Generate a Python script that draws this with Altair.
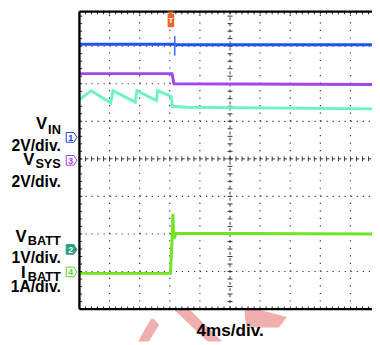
import altair as alt
import pandas as pd
import numpy as np

FONT = "Liberation Sans"
T_END = 38.86   # visible time span in ms (4 ms/div)
Y_TOP = 3.92    # visible top, divisions from screen centre
Y_BOT = -4.0

# ---------------- waveform data: time (ms), level (div from centre) ----------------
vin_t = [0.0, 12.60, 12.75, T_END]
vin_v = [3.05, 3.05, 3.04, 3.04]
vin_spike_t = [12.66]
vin_spike_hi = [3.27]
vin_spike_lo = [2.75]

vsys_t = [0.0, 12.30, 12.55, T_END]
vsys_v = [2.27, 2.27, 2.00, 1.98]

saw_t = [0.0, 1.56, 4.16, 4.46, 7.41, 7.63, 10.23, 10.40, 12.18, 12.35, 14.16, T_END]
saw_v = [1.58, 1.815, 1.49, 1.815, 1.51, 1.815, 1.555, 1.815, 1.66, 1.40, 1.372, 1.33]

batt_t = [0.0, 12.08, 12.30, 12.42, 12.50, 12.62, 12.80, T_END]
batt_v = [-3.05, -3.05, -2.20, -1.47, -2.00, -2.12, -1.98, -2.00]

TRIG = 12.15  # trigger position (ms)

# grid divisions
x_major = [4, 8, 12, 16, 24, 28, 32, 36]
y_major = [-3, -2, -1, 1, 2, 3]
X_CENTER = 20
x_minor = list(np.round(np.arange(0, T_END, 0.8), 3))
y_minor = list(np.round(np.arange(Y_BOT, Y_TOP, 0.2), 3))

# watermark fragments (horizontal-orient polygons)
wm_band = ["A", "A", "C", "C", "C", "B", "B", "B"]
wm_d = [-4.0, -4.86, -4.26, -4.416, -4.86, -4.0, -4.21, -4.49]
wm_x0 = [12.48, 17.02, 9.55, 9.03, 7.80, 21.96, 21.96, 22.22]
wm_x1 = [14.55, 18.97, 9.88, 10.59, 9.23, 23.52, 27.55, 26.51]

xs = alt.Scale(domain=[0, T_END], nice=False, zero=False)
ys = alt.Scale(domain=[Y_BOT, Y_TOP], nice=False, zero=False)


def X(f):
    return alt.X(f"{f}:Q", scale=xs, axis=None)


def Y(f):
    return alt.Y(f"{f}:Q", scale=ys, axis=None)


one = pd.DataFrame({"a": [0]})
layers = []

# watermark
wm = pd.DataFrame({"band": wm_band, "d": wm_d, "x0": wm_x0, "x1": wm_x1})
layers.append(
    alt.Chart(wm).mark_area(orient="horizontal", color="#F0AEAE", opacity=1)
    .encode(y=Y("d"), x=X("x0"), x2="x1:Q", detail="band:N")
)


def rules(df, **kw):
    return alt.Chart(df).mark_rule(**kw).encode(
        x=X("x"), x2="x2:Q", y=Y("y"), y2="y2:Q")


# dotted grid
vg = pd.DataFrame({"x": x_major, "x2": x_major, "y": [Y_BOT] * len(x_major), "y2": [Y_TOP] * len(x_major)})
layers.append(rules(vg, color="#333333", strokeWidth=1.2, strokeDash=[1.2, 6.48]))
hg = pd.DataFrame({"x": [0] * len(y_major), "x2": [T_END] * len(y_major), "y": y_major, "y2": y_major})
layers.append(rules(hg, color="#333333", strokeWidth=1.2, strokeDash=[1.2, 4.96]))

# centre crosshair
cc = pd.DataFrame({"x": [0, X_CENTER], "x2": [T_END, X_CENTER], "y": [0, Y_BOT], "y2": [0, Y_TOP]})
layers.append(rules(cc, color="#333333", strokeWidth=1, strokeDash=[3, 3.15]))
ct1 = pd.DataFrame({"x": x_minor, "x2": x_minor, "y": [-0.065] * len(x_minor), "y2": [0.065] * len(x_minor)})
layers.append(rules(ct1, color="#333333", strokeWidth=1))
ct2 = pd.DataFrame({"x": [X_CENTER - 0.33] * len(y_minor), "x2": [X_CENTER + 0.33] * len(y_minor), "y": y_minor, "y2": y_minor})
layers.append(rules(ct2, color="#333333", strokeWidth=1))

# border ticks
bt = pd.DataFrame({"x": x_minor, "x2": x_minor, "y": [Y_BOT] * len(x_minor), "y2": [Y_BOT + 0.07] * len(x_minor)})
layers.append(rules(bt, color="#222222", strokeWidth=1))
tt = pd.DataFrame({"x": x_minor, "x2": x_minor, "y": [Y_TOP] * len(x_minor), "y2": [Y_TOP - 0.07] * len(x_minor)})
layers.append(rules(tt, color="#222222", strokeWidth=1))
lt = pd.DataFrame({"x": [0] * len(y_minor), "x2": [0.36] * len(y_minor), "y": y_minor, "y2": y_minor})
layers.append(rules(lt, color="#222222", strokeWidth=1))


def trace(t, v, color, w=3):
    df = pd.DataFrame({"t": t, "v": v})
    return alt.Chart(df).mark_line(color=color, strokeWidth=w).encode(x=X("t"), y=Y("v"))


layers.append(trace(saw_t, saw_v, "#6DF2C9"))
layers.append(trace(vsys_t, vsys_v, "#A145EC"))
layers.append(trace(vin_t, vin_v, "#2152F2"))
sp = pd.DataFrame({"x": vin_spike_t, "x2": vin_spike_t, "y": vin_spike_lo, "y2": vin_spike_hi})
layers.append(rules(sp, color="#3F6FF4", strokeWidth=1.6))
layers.append(trace(batt_t, batt_v, "#70E41E"))

# frame
fr = pd.DataFrame({"x": [0, 0, 0], "x2": [T_END, T_END, 0], "y": [Y_TOP, Y_BOT, Y_BOT], "y2": [Y_TOP, Y_BOT, Y_TOP]})
layers.append(rules(fr, color="#000000", strokeWidth=2.4))

# trigger marker
TAG = ("M-0.45,-1 L0.45,-1 L0.12,-0.74 L0.36,-0.74 Q0.42,-0.74 0.42,-0.62 L0.42,0.86 "
       "Q0.42,1 0.26,1 L-0.26,1 Q-0.42,1 -0.42,0.86 L-0.42,-0.62 Q-0.42,-0.74 -0.36,-0.74 "
       "L-0.12,-0.74 Z")
trig = pd.DataFrame({"t": [TRIG]})
layers.append(alt.Chart(trig).mark_point(shape=TAG, size=256, filled=True, fill="#F0652A",
                                         strokeWidth=0, opacity=1)
              .encode(x=X("t"), y=alt.value(8)))
layers.append(alt.Chart(trig).mark_text(text="T", font=FONT, fontSize=8, fontWeight="bold",
                                        color="white", baseline="middle", align="center")
              .encode(x=X("t"), y=alt.value(10)))

# channel markers
ARROW = "M-1,-0.9 L0.42,-0.9 L1,0 L0.42,0.9 L-1,0.9 Z"
markers = [
    ("1", 128.5, "white", "#2040E0", "#2040E0"),
    ("3", 152.0, "white", "#A040E0", "#A040E0"),
    ("2", 243.0, "#2E9C84", "#2E9C84", "white"),
    ("4", 266.0, "white", "#5CD11C", "#5CD11C"),
]
for num, yy, fill, stroke, tc in markers:
    layers.append(alt.Chart(one).mark_point(shape=ARROW, size=121, filled=True, fill=fill,
                                            stroke=stroke, strokeWidth=1, opacity=1)
                  .encode(x=alt.value(-8), y=alt.value(yy)))
    layers.append(alt.Chart(one).mark_text(text=num, font=FONT, fontSize=9, fontWeight="bold",
                                           color=tc, baseline="middle", align="center")
                  .encode(x=alt.value(-9), y=alt.value(yy + 0.5)))


def txt(s, x, y, size, align="right"):
    return alt.Chart(one).mark_text(text=s, font=FONT, fontSize=size, fontWeight="bold",
                                    color="black", align=align, baseline="alphabetic").encode(
        x=alt.value(x), y=alt.value(y))


labels = [
    ("V", -33, 120, 17), ("IN", -19, 125, 13), ("2V/div.", -19, 142, 16),
    ("V", -46, 157, 17), ("SYS", -19, 160, 13), ("2V/div.", -19, 179, 16),
    ("V", -54, 235, 17), ("BATT", -19, 239, 13), ("1V/div.", -19, 257, 16),
    ("I", -55, 272, 17), ("BATT", -19, 275, 13), ("1A/div.", -19, 287, 16),
]
for s, x, y, size in labels:
    layers.append(txt(s, x, y, size))
layers.append(txt("4ms/div.", 154, 332, 17.5, align="center"))

chart = alt.layer(*layers).properties(
    width=299, height=304,
    padding={"left": 73, "top": 0, "right": 0, "bottom": 33},
    autosize=alt.AutoSizeParams(type="none"),
    background="white",
).configure_view(stroke=None)

chart.save("out.html", embed_options={"renderer": "svg", "actions": False})
